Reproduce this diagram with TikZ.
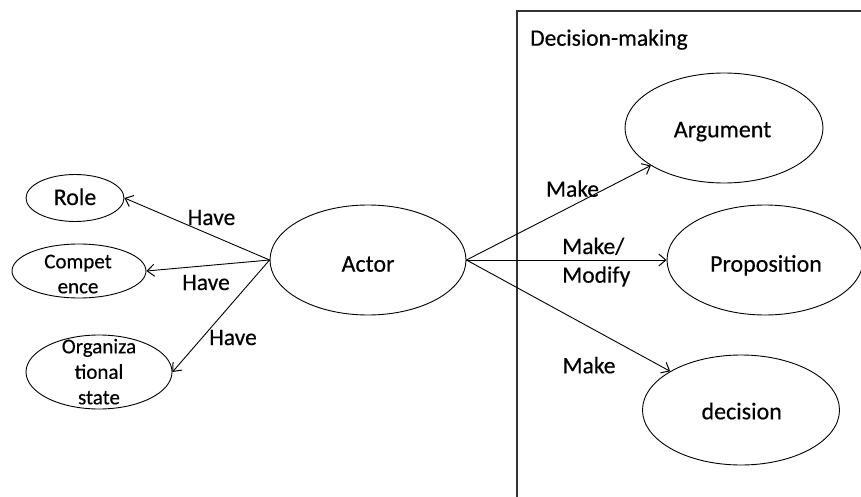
\documentclass[tikz,border=0pt]{standalone}
\usepackage{fontspec}
\setmainfont{Carlito}[FakeBold=0.4]
\usetikzlibrary{shapes.geometric,arrows.meta}
\tikzset{
  ell/.style={draw=black, ellipse, line width=0.9pt, inner sep=0pt},
  txt/.style={font=\fontsize{24}{27}\selectfont, inner sep=0pt, anchor=base},
  stxt/.style={font=\fontsize{21}{25}\selectfont, inner sep=0pt, anchor=base},
  lab/.style={font=\fontsize{23.5}{29}\selectfont, inner sep=0pt, anchor=base},
  arr/.style={draw=black, line width=0.9pt, -{Straight Barb[length=7pt,width=12pt,line width=1pt]}},
  frame/.style={draw=black!80, line width=1.1pt}
}
\begin{document}
\begin{tikzpicture}[x=1pt,y=-1pt]
\useasboundingbox (0,0) rectangle (861,497);
\clip (0,0) rectangle (861,497);
\fill[white] (0,0) rectangle (861,497);
% frame
\coordinate (fa) at (861,11);
\coordinate (fb) at (517,11);
\coordinate (fc) at (517,497);
\draw[frame] (fa) -- (fb) -- (fc);
\node[lab, anchor=base west] (dm) at (530,45.7) {Decision-making};
% ellipses
\node[ell, minimum width=196pt, minimum height=110pt] (actor) at (368,260) {};
\node[txt] (actort) at (368,271.7) {Actor};
\node[ell, minimum width=98pt, minimum height=47pt] (role) at (75,198) {};
\node[txt] (rolet) at (75,205) {Role};
\node[ell, minimum width=134pt, minimum height=54pt] (comp) at (79,271) {};
\node[stxt] (compt1) at (78,268.3) {Compet};
\node[stxt] (compt2) at (78,293.3) {ence};
\node[ell, minimum width=146pt, minimum height=74pt] (org) at (99,372) {};
\node[stxt] (orgt1) at (99,353.3) {Organiza};
\node[stxt] (orgt2) at (99,378.8) {tional};
\node[stxt] (orgt3) at (99,404.3) {state};
\node[ell, minimum width=198pt, minimum height=110pt] (arg) at (724,128) {};
\node[txt] (argt) at (722.5,137.3) {Argument};
\node[ell, minimum width=196pt, minimum height=110pt] (prop) at (765,260) {};
\node[txt] (propt) at (766,271.7) {Proposition};
\node[ell, minimum width=197pt, minimum height=110pt] (dec) at (741,410) {};
\node[txt] (dect) at (741.7,419.3) {decision};
% arrows
\draw[arr] (actor.west) -- (role.east);
\draw[arr] (actor.west) -- (comp.east);
\draw[arr] (actor.west) -- (org.east);
\draw[arr] (actor.east) -- (arg);
\draw[arr] (actor.east) -- (prop.west);
\draw[arr] (actor.east) -- (dec);
% labels
\node[lab] (h1) at (211.5,225) {Have};
\node[lab] (h2) at (206,290) {Have};
\node[lab] (h3) at (233,345) {Have};
\node[lab] (m1) at (572.5,196.7) {Make};
\node[lab, anchor=base west] (m2a) at (562,254) {Make/};
\node[lab, anchor=base west] (m2b) at (562,282.7) {Modify};
\node[lab] (m3) at (589,373.3) {Make};
\end{tikzpicture}
\end{document}
